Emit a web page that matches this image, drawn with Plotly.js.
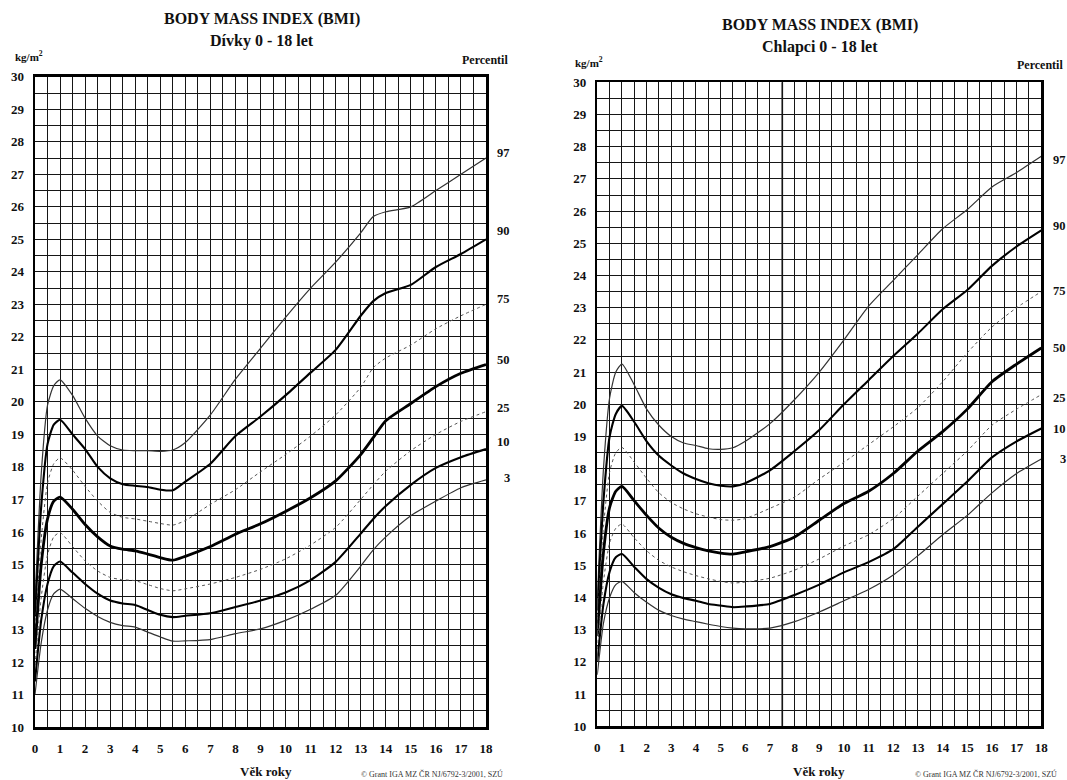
<!DOCTYPE html>
<html>
<head>
<meta charset="utf-8">
<script src="https://cdn.plot.ly/plotly-3.0.1.min.js"></script>
<style>html,body{margin:0;padding:0;background:#fff;}#chart{width:1067px;height:780px;}</style>
</head>
<body>
<div id="chart"></div>
<script>
// ---------- DATA ----------
const percentiles = ['97', '90', '75', '50', '25', '10', '3'];
const ageTicks = [0,1,2,3,4,5,6,7,8,9,10,11,12,13,14,15,16,17,18];
const bmiTicks = [10,11,12,13,14,15,16,17,18,19,20,21,22,23,24,25,26,27,28,29,30];

// Girls (Dívky)
const ageGirls = [0, 0.25, 0.5, 0.75, 1, 1.5, 2, 2.5, 3, 3.5, 4, 4.5, 5, 5.5, 6, 7, 8, 9, 10, 11, 12, 13, 13.5, 14, 15, 16, 17, 18];
const g97 = [13.9, 17.8, 19.9, 20.5, 20.68, 20.2, 19.5, 18.95, 18.65, 18.52, 18.5, 18.5, 18.48, 18.52, 18.75, 19.6, 20.7, 21.65, 22.6, 23.5, 24.3, 25.2, 25.7, 25.85, 26.0, 26.5, 27.0, 27.5];
const g90 = [13.4, 16.8, 18.7, 19.3, 19.45, 19.0, 18.55, 18.0, 17.65, 17.47, 17.42, 17.38, 17.3, 17.28, 17.55, 18.1, 18.95, 19.55, 20.2, 20.9, 21.6, 22.65, 23.1, 23.35, 23.6, 24.15, 24.55, 25.0];
const g75 = [12.9, 15.8, 17.5, 18.1, 18.28, 17.9, 17.4, 16.95, 16.6, 16.45, 16.4, 16.33, 16.26, 16.21, 16.35, 16.85, 17.3, 17.85, 18.38, 18.95, 19.6, 20.45, 21.05, 21.35, 21.75, 22.25, 22.65, 23.0];
const g50 = [12.4, 15.0, 16.4, 16.95, 17.07, 16.7, 16.23, 15.85, 15.57, 15.47, 15.42, 15.32, 15.21, 15.13, 15.25, 15.55, 15.93, 16.25, 16.63, 17.05, 17.57, 18.38, 18.9, 19.42, 19.95, 20.47, 20.88, 21.15];
const g25 = [11.9, 14.0, 15.3, 15.85, 15.98, 15.55, 15.11, 14.8, 14.6, 14.53, 14.5, 14.38, 14.26, 14.19, 14.25, 14.4, 14.6, 14.85, 15.17, 15.6, 16.14, 17.0, 17.45, 17.87, 18.5, 19.0, 19.4, 19.7];
const g10 = [11.4, 13.3, 14.4, 14.95, 15.09, 14.75, 14.4, 14.1, 13.89, 13.8, 13.75, 13.6, 13.45, 13.38, 13.42, 13.5, 13.69, 13.89, 14.14, 14.52, 15.08, 15.95, 16.4, 16.8, 17.45, 17.97, 18.3, 18.55];
const g3  = [11.0, 12.6, 13.6, 14.1, 14.24, 13.95, 13.65, 13.4, 13.22, 13.12, 13.07, 12.92, 12.77, 12.64, 12.65, 12.69, 12.87, 13.02, 13.28, 13.62, 14.05, 14.95, 15.45, 15.85, 16.5, 16.95, 17.36, 17.6];

// Boys (Chlapci)
const ageBoys = [0, 0.25, 0.5, 0.75, 1, 1.5, 2, 2.5, 3, 3.5, 4, 4.5, 5, 5.5, 6, 7, 8, 9, 10, 11, 12, 13, 14, 15, 16, 17, 18];
const b97 = [14.0, 18.0, 20.2, 21.0, 21.25, 20.6, 19.85, 19.35, 19.0, 18.8, 18.72, 18.62, 18.6, 18.65, 18.85, 19.4, 20.15, 21.0, 22.0, 23.05, 23.85, 24.65, 25.45, 26.05, 26.75, 27.2, 27.7];
const b90 = [13.6, 17.0, 19.0, 19.7, 19.95, 19.45, 18.85, 18.4, 18.1, 17.85, 17.68, 17.55, 17.47, 17.45, 17.55, 17.95, 18.55, 19.2, 20.0, 20.75, 21.5, 22.2, 22.95, 23.55, 24.3, 24.9, 25.4];
const b75 = [13.2, 16.2, 17.9, 18.5, 18.66, 18.2, 17.7, 17.25, 16.95, 16.75, 16.6, 16.5, 16.42, 16.4, 16.45, 16.77, 17.12, 17.68, 18.2, 18.75, 19.3, 19.9, 20.7, 21.6, 22.4, 23.0, 23.5];
const b50 = [12.8, 15.4, 16.8, 17.3, 17.45, 17.0, 16.55, 16.15, 15.87, 15.68, 15.55, 15.45, 15.38, 15.35, 15.42, 15.58, 15.88, 16.4, 16.92, 17.3, 17.85, 18.55, 19.15, 19.85, 20.7, 21.25, 21.75];
const b25 = [12.4, 14.5, 15.7, 16.15, 16.28, 15.85, 15.45, 15.15, 14.95, 14.8, 14.68, 14.58, 14.5, 14.45, 14.48, 14.6, 14.85, 15.2, 15.6, 15.95, 16.45, 17.15, 17.85, 18.55, 19.35, 19.85, 20.3];
const b10 = [12.0, 13.8, 14.8, 15.25, 15.35, 14.95, 14.57, 14.3, 14.1, 13.98, 13.9, 13.8, 13.75, 13.7, 13.72, 13.8, 14.08, 14.4, 14.78, 15.1, 15.5, 16.2, 16.9, 17.6, 18.35, 18.85, 19.25];
const b3  = [11.6, 13.2, 14.0, 14.4, 14.5, 14.15, 13.85, 13.6, 13.44, 13.33, 13.25, 13.17, 13.1, 13.05, 13.03, 13.05, 13.25, 13.55, 13.9, 14.25, 14.7, 15.3, 15.95, 16.55, 17.25, 17.85, 18.3];

// ---------- STYLES ----------
const W = 1067, H = 780;
const FONT = 'Liberation Serif, Times New Roman, serif';
const px = v => v / W;
const py = v => 1 - v / H;

const styles = {
  '97': {color: '#333', width: 1.2, dash: 'solid'},
  '90': {color: '#000', width: 2.1, dash: 'solid'},
  '75': {color: '#555', width: 1.0, dash: 'dot'},
  '50': {color: '#000', width: 2.8, dash: 'solid'},
  '25': {color: '#555', width: 1.0, dash: 'dot'},
  '10': {color: '#000', width: 2.1, dash: 'solid'},
  '3':  {color: '#333', width: 1.2, dash: 'solid'}
};

const girlSeries = [g97, g90, g75, g50, g25, g10, g3];
const boySeries  = [b97, b90, b75, b50, b25, b10, b3];

const traces = [];
percentiles.forEach((p, i) => {
  traces.push({x: ageGirls, y: girlSeries[i], xaxis: 'x', yaxis: 'y', type: 'scatter', mode: 'lines',
    line: Object.assign({shape: 'spline', smoothing: 0.6}, styles[p]), hoverinfo: 'skip', name: p});
  traces.push({x: ageBoys, y: boySeries[i], xaxis: 'x2', yaxis: 'y2', type: 'scatter', mode: 'lines',
    line: Object.assign({shape: 'spline', smoothing: 0.6}, styles[p]), hoverinfo: 'skip', name: p});
});

const tickFont = {family: FONT, size: 13, color: '#111', weight: 'bold'};
const gridC = '#161616';
const gridW = 1;
function xAx(dom, anchor) {
  return {domain: dom, anchor: anchor, range: [0, 18], tickvals: ageTicks, ticktext: ageTicks.map(String),
    showgrid: true, gridcolor: gridC, gridwidth: gridW,
    minor: {dtick: 0.5, tick0: 0, showgrid: true, gridcolor: gridC, gridwidth: gridW, ticks: ''},
    showline: true, linecolor: '#000', linewidth: 2.5, mirror: true, zeroline: false,
    ticks: '', ticklabelstandoff: 8, tickfont: tickFont, fixedrange: true};
}
function yAx(dom, anchor) {
  return {domain: dom, anchor: anchor, range: [10, 30], tickvals: bmiTicks, ticktext: bmiTicks.map(String),
    showgrid: true, gridcolor: gridC, gridwidth: gridW,
    minor: {dtick: 0.5, tick0: 10, showgrid: true, gridcolor: gridC, gridwidth: gridW, ticks: ''},
    showline: true, linecolor: '#000', linewidth: 2.5, mirror: true, zeroline: false,
    ticks: '', ticklabelstandoff: 6, tickfont: tickFont, fixedrange: true};
}

const boldText = (size) => ({family: FONT, size: size, color: '#111', weight: 'bold'});
const ann = [];
function addText(t, x, y, size, anchor) {
  ann.push({text: t, xref: 'paper', yref: 'paper', x: px(x), y: py(y), xanchor: anchor || 'center', yanchor: 'middle',
    showarrow: false, font: boldText(size)});
}
// Titles
addText('BODY MASS INDEX (BMI)', 262, 19, 16);
addText('Dívky 0 - 18 let', 262, 41, 16);
addText('BODY MASS INDEX (BMI)', 820, 25, 16);
addText('Chlapci 0 - 18 let', 820, 47, 16);
// Unit labels
addText('kg/m<sup>2</sup>', 29, 56, 11);
addText('kg/m<sup>2</sup>', 589, 62, 11);
addText('Percentil', 485, 60, 12);
addText('Percentil', 1040, 65, 12);
// Percentile labels
const leftLabelY  = [153, 231, 299, 360, 408, 442, 478];
const rightLabelY = [160, 226, 291, 348, 398, 429, 459];
percentiles.forEach((p, i) => {
  addText(p, 512, leftLabelY[i], 12.5, 'right');
  addText(p, 1068, rightLabelY[i], 12.5, 'right');
});
// Axis titles
addText('Věk roky', 266, 771, 13);
addText('Věk roky', 819, 771, 13);
ann.push({text: '© Grant IGA MZ ČR NJ/6792-3/2001, SZÚ', xref: 'paper', yref: 'paper', x: px(432), y: py(774),
  xanchor: 'center', yanchor: 'middle', showarrow: false, font: {family: FONT, size: 8, color: '#333'}});
ann.push({text: '© Grant IGA MZ ČR NJ/6792-3/2001, SZÚ', xref: 'paper', yref: 'paper', x: px(986), y: py(774),
  xanchor: 'center', yanchor: 'middle', showarrow: false, font: {family: FONT, size: 8, color: '#333'}});

const layout = {
  width: W, height: H,
  margin: {l: 0, r: 0, t: 0, b: 0},
  paper_bgcolor: '#fff', plot_bgcolor: '#fff',
  showlegend: false,
  xaxis:  xAx([px(35), px(486)], 'y'),
  yaxis:  yAx([py(727), py(76.8)], 'x'),
  xaxis2: xAx([px(597.3), px(1041.3)], 'y2'),
  yaxis2: yAx([py(726.3), py(82.3)], 'x2'),
  annotations: ann,
  shapes: [{type: 'line', xref: 'x2', yref: 'y2 domain', x0: 7.5, x1: 7.5, y0: 0, y1: 1,
    line: {color: '#000', width: 1.6}, layer: 'below'}]
};

Plotly.newPlot('chart', traces, layout, {staticPlot: true, displayModeBar: false});
</script>
</body>
</html>
